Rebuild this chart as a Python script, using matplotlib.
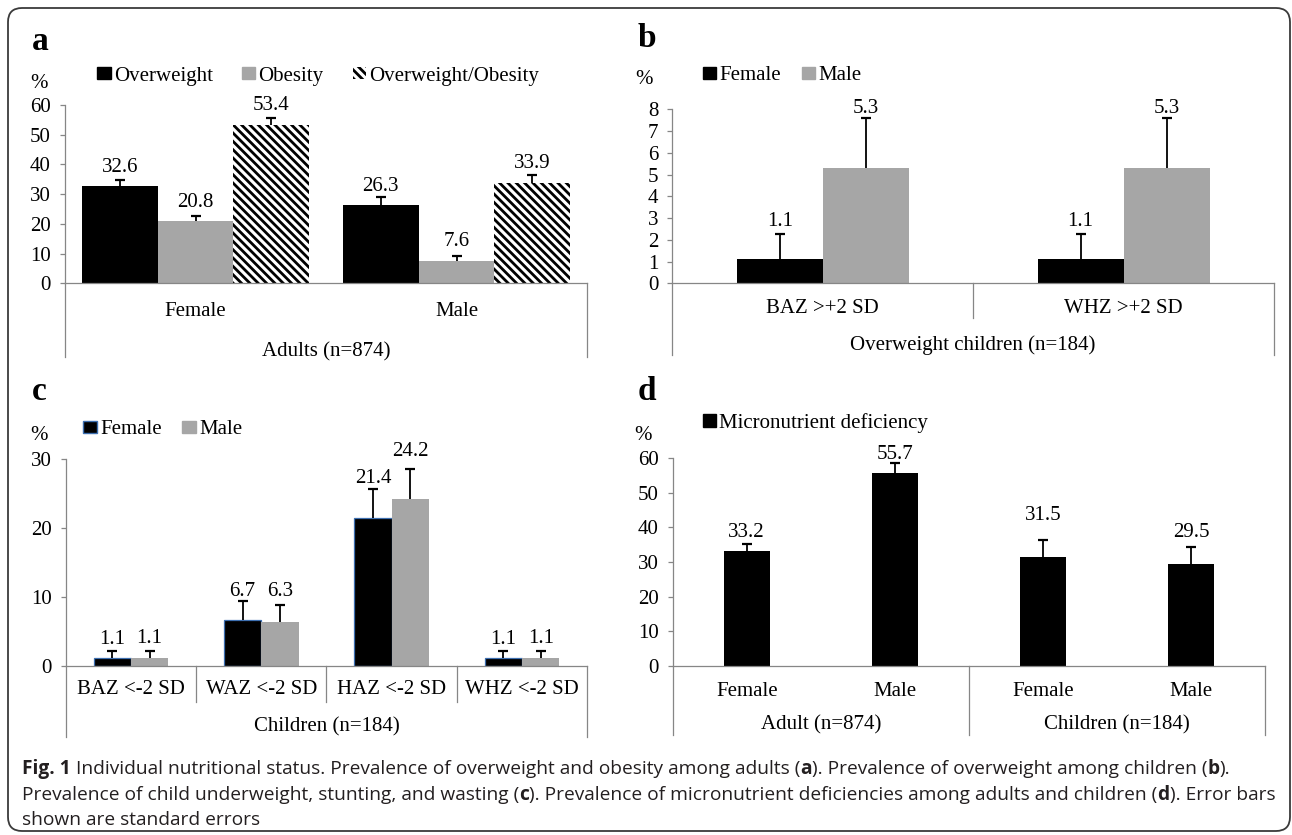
"""
Fig. 1 - individual nutritional status (four bar panels a-d + caption)
"""
import numpy as np
import matplotlib.pyplot as plt
from matplotlib.patches import Patch, FancyBboxPatch
from matplotlib.transforms import blended_transform_factory

# ---- data -------------------------------------------------------------
# a: adults
a_groups = ['Female', 'Male']
a_series = ['Overweight', 'Obesity', 'Overweight/Obesity']
a_overweight = [32.6, 26.3]
a_obesity = [20.8, 7.6]
a_ow_ob = [53.4, 33.9]
a_overweight_se = [2.0, 2.7]
a_obesity_se = [1.8, 1.5]
a_ow_ob_se = [2.2, 2.7]
a_title = 'Adults (n=874)'

# b: overweight children
b_cats = ['BAZ >+2 SD', 'WHZ >+2 SD']
b_female = [1.1, 1.1]
b_male = [5.3, 5.3]
b_female_se = [1.15, 1.15]
b_male_se = [2.3, 2.3]
b_title = 'Overweight children (n=184)'

# c: underweight / stunting / wasting
c_cats = ['BAZ <-2 SD', 'WAZ <-2 SD', 'HAZ <-2 SD', 'WHZ <-2 SD']
c_female = [1.1, 6.7, 21.4, 1.1]
c_male = [1.1, 6.3, 24.2, 1.1]
c_female_se = [1.1, 2.7, 4.3, 1.1]
c_male_se = [1.0, 2.5, 4.4, 1.0]
c_title = 'Children (n=184)'

# d: micronutrient deficiency
d_cats = ['Female', 'Male', 'Female', 'Male']
d_groups = ['Adult (n=874)', 'Children (n=184)']
d_values = [33.2, 55.7, 31.5, 29.5]
d_se = [2.1, 2.9, 5.0, 4.8]
d_series = 'Micronutrient deficiency'

# ---- style ------------------------------------------------------------
W, H = 1292, 835
DPI = 100
PT = 72 / DPI          # points per pixel
BLACK = '#000000'
GREY = '#A6A6A6'
AXIS = '#868686'
BLUE_EDGE = '#3D6FB0'
FS = 15

plt.rcParams['font.family'] = ['Liberation Serif', 'DejaVu Serif']
plt.rcParams['font.size'] = FS
plt.rcParams['hatch.linewidth'] = 2.0

fig = plt.figure(figsize=(W / DPI, H / DPI), dpi=DPI)


def make_axes(x0, x1, ytop, ybot, ymax, step):
    ax = fig.add_axes([x0 / W, 1 - ybot / H, (x1 - x0) / W, (ybot - ytop) / H])
    ax.set_ylim(0, ymax)
    ax.set_yticks(np.arange(0, ymax + step / 2, step))
    ax.spines['top'].set_visible(False)
    ax.spines['right'].set_visible(False)
    for s in ['left', 'bottom']:
        ax.spines[s].set_color(AXIS)
        ax.spines[s].set_linewidth(0.9)
    ax.tick_params(axis='y', length=5 * PT, width=0.9, color=AXIS,
                   pad=9 * PT, labelsize=FS)
    ax.set_xticks([])
    ax.patch.set_alpha(0)
    ax.hpx = ybot - ytop
    return ax


def draw_bars(ax, x, vals, se, width, gaps, **style):
    x = np.asarray(x, dtype=float)
    vals = np.asarray(vals, dtype=float)
    top = vals + np.asarray(se, dtype=float)
    ax.bar(x, vals, width, zorder=2, **style)
    # plus-only error bars, cap only at the top
    ax.vlines(x, vals, top, color='black', lw=1.3, zorder=3)
    ax.plot(x, top, ls='none', marker='_', ms=7, mew=1.6, color='black', zorder=3)
    for xi, v, g in zip(x, vals, gaps):
        ax.annotate(f'{v:.1f}', (xi, v), xytext=(0, g * PT), textcoords='offset points',
                    ha='center', va='center', fontsize=FS)


def line_below(ax, x, depth_px):
    tr = blended_transform_factory(ax.transData, ax.transAxes)
    ax.plot([x, x], [0, -depth_px / ax.hpx], color=AXIS, lw=0.9,
            transform=tr, clip_on=False)


def label_below(ax, x, text, depth_px):
    tr = blended_transform_factory(ax.transData, ax.transAxes)
    ax.annotate(text, (x, 0), xycoords=tr, xytext=(0, -depth_px * PT),
                textcoords='offset points', ha='center', va='center', fontsize=FS)


def fig_text(x_px, y_px, s, **kw):
    return fig.text(x_px / W, 1 - y_px / H, s, **kw)


def legend(ax, handles, labels, x_px, y_px, spacing):
    ax.legend(handles, labels, loc='center left',
              bbox_to_anchor=(x_px / W, 1 - y_px / H), bbox_transform=fig.transFigure,
              ncol=len(handles), frameon=False, handlelength=0.65, handleheight=0.55,
              handletextpad=0.15, columnspacing=spacing, borderpad=0,
              borderaxespad=0, fontsize=FS)


# ---- panel a ----------------------------------------------------------
ax = make_axes(65, 587, 105, 283.3, 60, 10)
ax.set_xlim(-0.5, len(a_groups) - 0.5)
xa = np.arange(len(a_groups))
wa = 0.29
draw_bars(ax, xa - wa, a_overweight, a_overweight_se, wa, [19, 19], color=BLACK)
draw_bars(ax, xa, a_obesity, a_obesity_se, wa, [19, 19], color=GREY)
draw_bars(ax, xa + wa, a_ow_ob, a_ow_ob_se, wa, [19, 19], facecolor='white',
          edgecolor='black', linewidth=0, hatch='\\\\\\\\')
for i, g in enumerate(a_groups):
    label_below(ax, i, g, 28.5)
label_below(ax, 0.5, a_title, 69)
line_below(ax, -0.5, 74)
line_below(ax, 1.5, 74)
legend(ax, [Patch(color=BLACK), Patch(color=GREY),
            Patch(facecolor='white', edgecolor='black', linewidth=0, hatch='\\\\\\\\')],
       a_series, 97, 76, 1.4)
fig_text(32, 50, 'a', fontsize=24, fontweight='bold', va='baseline')
fig_text(39, 83, '%', ha='center', va='center')

# ---- panel b ----------------------------------------------------------
ax = make_axes(672.3, 1274, 109.3, 283.3, 8, 1)
ax.set_xlim(-0.5, len(b_cats) - 0.5)
xb = np.arange(len(b_cats))
wb = 0.286
draw_bars(ax, xb - wb / 2, b_female, b_female_se, wb, [37.6, 37.6], color=BLACK)
draw_bars(ax, xb + wb / 2, b_male, b_male_se, wb, [60, 60], color=GREY)
for i, c in enumerate(b_cats):
    label_below(ax, i, c, 24.7)
label_below(ax, 0.5, b_title, 61.7)
line_below(ax, 0.5, 34.7)
line_below(ax, -0.5, 72)
line_below(ax, 1.5, 72)
legend(ax, [Patch(color=BLACK), Patch(color=GREY)], ['Female', 'Male'], 702.7, 76, 1.0)
fig_text(638, 47, 'b', fontsize=24, fontweight='bold', va='baseline')
fig_text(643.5, 79, '%', ha='center', va='center')

# ---- panel c ----------------------------------------------------------
ax = make_axes(65.7, 587.3, 459.3, 665.7, 30, 10)
ax.set_xlim(-0.5, len(c_cats) - 0.5)
xc = np.arange(len(c_cats))
wc = 0.286
draw_bars(ax, xc - wc / 2, c_female, c_female_se, wc, [18.7, 28.3, 40, 18.7],
          facecolor=BLACK, edgecolor=BLUE_EDGE, linewidth=0.9)
draw_bars(ax, xc + wc / 2, c_male, c_male_se, wc, [19.7, 31.3, 48, 19.7], color=GREY)
for i, c in enumerate(c_cats):
    label_below(ax, i, c, 24.3)
label_below(ax, 1.5, c_title, 61)
for xs in [0.5, 1.5, 2.5]:
    line_below(ax, xs, 36)
line_below(ax, -0.5, 71)
line_below(ax, 3.5, 71)
legend(ax, [Patch(facecolor=BLACK, edgecolor=BLUE_EDGE, linewidth=1), Patch(color=GREY)],
       ['Female', 'Male'], 83.3, 430, 1.0)
fig_text(32, 400, 'c', fontsize=24, fontweight='bold', va='baseline')
fig_text(39, 435, '%', ha='center', va='center')

# ---- panel d ----------------------------------------------------------
ax = make_axes(672.7, 1265, 458.3, 665.7, 60, 10)
ax.set_xlim(-0.5, len(d_cats) - 0.5)
xd = np.arange(len(d_cats))
draw_bars(ax, xd, d_values, d_se, 0.31, [18.4, 18.3, 41, 31], color=BLACK)
for i, c in enumerate(d_cats):
    label_below(ax, i, c, 25.3)
for i, g in enumerate(d_groups):
    label_below(ax, 0.5 + 2 * i, g, 59.3)
for xs in [-0.5, 1.5, 3.5]:
    line_below(ax, xs, 69)
legend(ax, [Patch(color=BLACK)], [d_series], 702.7, 422.7, 1.0)
fig_text(638, 400, 'd', fontsize=24, fontweight='bold', va='baseline')
fig_text(643, 436, '%', ha='center', va='center')

# ---- caption ----------------------------------------------------------
CAP = dict(family=['Open Sans', 'DejaVu Sans'], fontsize=13.8, color='#231F20', va='center')
caption_lines = [
    [('Fig. 1', True), (' Individual nutritional status. Prevalence of overweight and obesity among adults (', False),
     ('a', True), ('). Prevalence of overweight among children (', False), ('b', True), (').', False)],
    [('Prevalence of child underweight, stunting, and wasting (', False), ('c', True),
     ('). Prevalence of micronutrient deficiencies among adults and children (', False),
     ('d', True), ('). Error bars', False)],
    [('shown are standard errors', False)],
]
caption_y = [769, 795, 820]
renderer = fig.canvas.get_renderer()
for parts, y in zip(caption_lines, caption_y):
    x = 22
    for s, bold in parts:
        t = fig_text(x, y, s, fontweight='bold' if bold else 'normal', **CAP)
        x += t.get_window_extent(renderer).width

# rounded outer frame
frame = FancyBboxPatch((0.08, 0.04), 12.82, 8.23,
                       boxstyle='round,pad=0,rounding_size=0.14',
                       transform=fig.dpi_scale_trans, fill=False,
                       edgecolor='#3a3a3a', linewidth=1.3)
fig.add_artist(frame)

fig.savefig('out.png', dpi=DPI)
